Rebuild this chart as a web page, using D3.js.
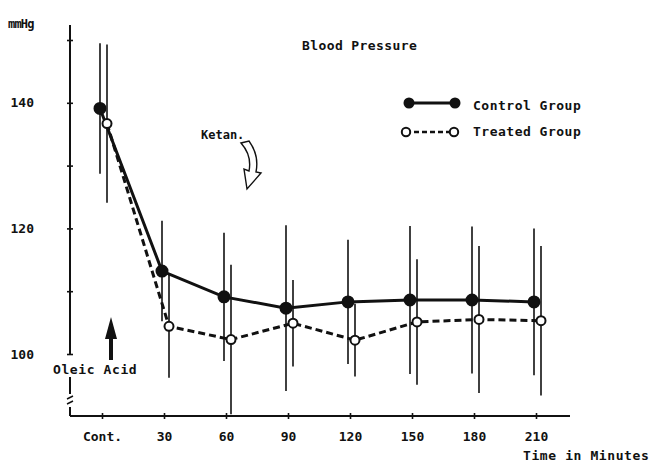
<!DOCTYPE html>
<html>
<head>
<meta charset="utf-8">
<script src="https://cdn.jsdelivr.net/npm/d3@7"></script>
<style>
  body { margin: 0; background: #fff; }
  svg text { font-family: "DejaVu Sans Mono", "Liberation Mono", monospace; fill: #111; font-weight: bold; }
</style>
</head>
<body>
<div id="chart"></div>
<script>
// time points (minutes after oleic acid)
const categories = ["Cont.", "30", "60", "90", "120", "150", "180", "210"];

// mean blood pressure, mmHg
const controlMean = [139.1, 113.2, 109.1, 107.3, 108.3, 108.6, 108.6, 108.3];
const treatedMean = [136.7, 104.4, 102.3, 104.9, 102.2, 105.1, 105.5, 105.3];

// half length of the vertical bars, mmHg
const controlErr = [10.4, 8.0, 10.2, 13.2, 9.9, 11.8, 11.7, 11.7];
const treatedErr = [12.6, 8.2, 11.9, 6.9, 5.8, 10.0, 11.7, 11.9];

// y axis ticks and the ones that get a number
const yTicks = [100, 110, 120, 130, 140, 150];
const yLabels = [100, 120, 140];

const width = 653, height = 470;

const svg = d3.select("#chart")
  .append("svg")
  .attr("width", width)
  .attr("height", height);

// scales
let xScale = d3.scalePoint()
  .domain(categories)
  .range([102, 536]);

let yScale = d3.scaleLinear()
  .domain([100, 150])
  .range([354, 40]);

const axisX0 = 70, axisY0 = 416;

/*
  Axes
*/

// y axis - ticks and labels from d3, line drawn by hand because of the break
let yAxis = svg.append("g")
  .attr("transform", `translate(${axisX0},0)`)
  .call(d3.axisLeft(yScale)
    .tickValues(yTicks)
    .tickSize(3)
    .tickPadding(33)
    .tickFormat(d => yLabels.includes(d) ? d : ""));
yAxis.select(".domain").remove();
yAxis.selectAll(".tick line").attr("x1", -3).attr("x2", 3).attr("stroke", "#111").attr("stroke-width", 1.6);
yAxis.selectAll(".tick text").attr("font-size", 13).attr("font-family", "DejaVu Sans Mono");

// axis line pieces (gap for the Oleic Acid text, then the break)
[[25, yScale(100)], [377, 394], [407, axisY0]].forEach(s => {
  svg.append("line")
    .attr("x1", axisX0).attr("x2", axisX0)
    .attr("y1", s[0]).attr("y2", s[1])
    .attr("stroke", "#111").attr("stroke-width", 2);
});
// break marks
[397, 402].forEach(yy => {
  svg.append("line")
    .attr("x1", axisX0 - 3).attr("x2", axisX0 + 3)
    .attr("y1", yy + 2).attr("y2", yy - 1)
    .attr("stroke", "#111").attr("stroke-width", 1.5);
});

// x axis
let xAxis = svg.append("g")
  .attr("transform", `translate(0,${axisY0})`)
  .call(d3.axisBottom(xScale).tickSize(3).tickPadding(13));
xAxis.select(".domain").remove();
xAxis.selectAll(".tick line").attr("y1", -3).attr("y2", 3).attr("stroke", "#111").attr("stroke-width", 1.6);
xAxis.selectAll(".tick text").attr("font-size", 13).attr("font-family", "DejaVu Sans Mono");
svg.append("line")
  .attr("x1", axisX0).attr("x2", 570)
  .attr("y1", axisY0).attr("y2", axisY0)
  .attr("stroke", "#111").attr("stroke-width", 2);

/*
  Texts
*/
svg.append("text").attr("x", 8).attr("y", 28).attr("font-size", 12).attr("letter-spacing", -0.8).text("mmHg");
svg.append("text").attr("x", 302).attr("y", 50).attr("font-size", 13).attr("letter-spacing", 0.4).text("Blood Pressure");
svg.append("text").attr("x", 523).attr("y", 460).attr("font-size", 13).attr("letter-spacing", 0.6).text("Time in Minutes");
svg.append("text").attr("x", 201).attr("y", 139).attr("font-size", 12).text("Ketan.");
svg.append("text").attr("x", 53).attr("y", 374).attr("font-size", 13).attr("letter-spacing", 0.6).text("Oleic Acid");

// Oleic acid arrow
svg.append("line").attr("x1", 111).attr("x2", 111).attr("y1", 336).attr("y2", 360)
  .attr("stroke", "#111").attr("stroke-width", 4);
svg.append("path").attr("d", "M105,339 L111,317 L117,339 Z").attr("fill", "#111");

// Ketan hollow arrow
svg.append("path")
  .attr("d", "M241,143 L249,141 C257,152 258,162 256,172 L261,173 L247,189 L244,169 L249,171 C251,161 249,152 241,143 Z")
  .attr("fill", "#fff").attr("stroke", "#111").attr("stroke-width", 1.4);

/*
  Series
*/
const series = [
  { mean: controlMean, err: controlErr, off: -2, dash: null, fill: "#111" },
  { mean: treatedMean, err: treatedErr, off: 5, dash: "7,4", fill: "#fff" }
];

// error bars
series.forEach(s => {
  svg.append("g").selectAll("line")
    .data(s.mean)
    .enter()
    .append("line")
      .attr("x1", (d, i) => xScale(categories[i]) + s.off)
      .attr("x2", (d, i) => xScale(categories[i]) + s.off)
      .attr("y1", (d, i) => yScale(d + s.err[i]))
      .attr("y2", (d, i) => yScale(d - s.err[i]))
      .attr("stroke", "#111")
      .attr("stroke-width", 1.6);
});

// lines
series.forEach(s => {
  let line = d3.line()
    .x((d, i) => xScale(categories[i]) + s.off)
    .y(d => yScale(d));
  svg.append("path")
    .datum(s.mean)
    .attr("d", line)
    .attr("fill", "none")
    .attr("stroke", "#111")
    .attr("stroke-width", 3)
    .attr("stroke-dasharray", s.dash);
});

// markers
series.forEach(s => {
  svg.append("g").selectAll("circle")
    .data(s.mean)
    .enter()
    .append("circle")
      .attr("cx", (d, i) => xScale(categories[i]) + s.off)
      .attr("cy", d => yScale(d))
      .attr("r", s.fill === "#111" ? 5.5 : 4.5)
      .attr("fill", s.fill)
      .attr("stroke", "#111")
      .attr("stroke-width", 2);
});

/*
  Legend
*/
const legend = svg.append("g");
legend.append("line").attr("x1", 409).attr("x2", 455).attr("y1", 103).attr("y2", 103)
  .attr("stroke", "#111").attr("stroke-width", 3);
[409, 455].forEach(cx => legend.append("circle").attr("cx", cx).attr("cy", 103).attr("r", 5.5)
  .attr("fill", "#111"));
legend.append("line").attr("x1", 406).attr("x2", 454).attr("y1", 132).attr("y2", 132)
  .attr("stroke", "#111").attr("stroke-width", 2.5).attr("stroke-dasharray", "5,3");
[406, 454].forEach(cx => legend.append("circle").attr("cx", cx).attr("cy", 132).attr("r", 4.2)
  .attr("fill", "#fff").attr("stroke", "#111").attr("stroke-width", 2));
legend.append("text").attr("x", 473).attr("y", 110).attr("font-size", 13).attr("letter-spacing", 0.5).text("Control Group");
legend.append("text").attr("x", 473).attr("y", 136).attr("font-size", 13).attr("letter-spacing", 0.5).text("Treated Group");
</script>
</body>
</html>
